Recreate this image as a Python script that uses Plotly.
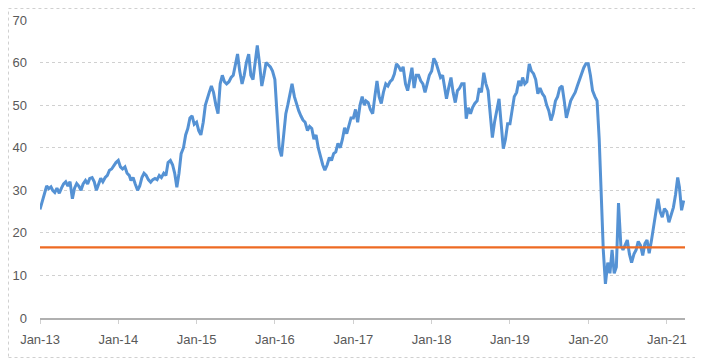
import plotly.graph_objects as go
import datetime as dt

years = [2013, 2014, 2015, 2016, 2017, 2018, 2019, 2020]
v2013 = [25.5, 27.5, 29.5, 31, 30.4, 30.8, 30, 29.5, 30.5, 29.3, 30.5, 31.5,
         32, 31, 32, 28, 30.5, 31.6, 31, 30, 31.5, 32.3, 31.5, 32.8,
         33, 32, 30, 31.5, 32.8, 32, 33, 33.5, 34.7, 35, 35.8, 36.5]
v2014 = [37, 35.5, 35, 35.5, 34, 33.5, 32.3, 33, 31.5, 30, 31, 33,
         34, 33.5, 32.5, 31.9, 32.5, 32.8, 32.5, 33.5, 33, 34, 33.5, 36.5,
         37, 36, 34, 30.7, 34, 38.6, 40, 43, 44.5, 47, 47.5, 45.5]
v2015 = [46, 44, 43, 46, 50, 52, 53, 54.5, 53, 50, 48, 55,
         57, 55.5, 55, 55.5, 56.5, 57, 60, 62, 58, 55, 57, 60,
         62, 57, 56, 60, 64, 60, 54.5, 57, 60, 59.5, 59, 58]
v2016 = [56, 48, 40, 38, 44, 48, 50, 53, 55, 52, 50, 48.7,
         47.5, 46.5, 46, 44, 45, 44.5, 42, 43, 40, 37.7, 36, 34.7,
         36, 37.7, 37, 38.6, 39, 41, 40, 42, 44.7, 43.3, 45, 47]
v2017 = [47, 49, 46, 50, 52, 50, 51, 50.6, 49, 48, 52, 55.7,
         52, 50.4, 53, 55, 54.5, 55.5, 56, 57.3, 59.7, 59, 58, 59,
         55, 53.4, 56, 58.8, 54, 57, 57, 55.7, 55, 53, 55, 57]
v2018 = [58, 61, 60, 58, 56.5, 57, 54.5, 51.5, 54, 56.5, 53, 50.6,
         53.4, 54, 55, 55, 46.8, 49.4, 48, 49.5, 50.4, 51, 54, 53,
         57.6, 55, 53.4, 48, 42.4, 46, 48.7, 51.5, 45.6, 39.8, 42, 45.6]
v2019 = [45.6, 49, 52, 53, 55.7, 54.5, 56.5, 55, 55.5, 59.7, 58, 57.4,
         56, 52.7, 54, 52.7, 52, 50, 48.7, 46.4, 48, 51, 52, 54,
         54.5, 51, 47, 49, 51, 52, 53, 54.5, 56, 57, 58.8, 59.7]
v2020 = [59.7, 57, 53.4, 52, 51, 42, 30, 16, 8, 13, 10.5, 16,
         10.5, 12, 27, 17, 16, 17, 18.3, 15, 13, 15, 16, 18,
         17, 14.7, 17.5, 18.3, 15.2, 18, 21.3, 24, 28, 25, 23.7, 25.7]
v2021 = [25, 22.5, 24, 26, 29, 33, 30.7, 25.3, 27.6]
threshold = 16.6
x_ticks = ["2013-01-01", "2014-01-01", "2015-01-01", "2016-01-01", "2017-01-01",
           "2018-01-01", "2019-01-01", "2020-01-01", "2021-01-01"]
x_labels = ["Jan-13", "Jan-14", "Jan-15", "Jan-16", "Jan-17",
            "Jan-18", "Jan-19", "Jan-20", "Jan-21"]

series = [v2013, v2014, v2015, v2016, v2017, v2018, v2019, v2020, v2021]
all_years = years + [2021]
dates, values = [], []
for yr, vals in zip(all_years, series):
    for i, v in enumerate(vals):
        m = i // 3 + 1
        d = [1, 11, 21][i % 3]
        dates.append(dt.date(yr, m, d))
        values.append(v)

fig = go.Figure()
fig.add_trace(go.Scatter(x=dates, y=values, mode="lines",
                         line=dict(color="#5592D4", width=3), showlegend=False))

# orange threshold line across the plot area
fig.add_shape(type="line", xref="paper", yref="y", x0=0, x1=1, y0=threshold, y1=threshold,
              line=dict(color="#EE6A22", width=2.2))

# dotted outer border of chart area
fig.add_shape(type="rect", xref="paper", yref="paper",
              x0=-0.0488, x1=1.0271, y0=-0.1326, y1=1.0386,
              line=dict(color="#D0D0D0", width=1, dash="dot"), layer="below")

font = dict(family="Liberation Sans", size=13, color="#595959")
fig.update_layout(
    width=695, height=350,
    margin=dict(l=32, r=18, t=12, b=40, autoexpand=False),
    paper_bgcolor="white", plot_bgcolor="white",
    font=font,
    xaxis=dict(type="date", range=["2013-01-01", "2021-03-27"],
               tickvals=x_ticks, ticktext=x_labels, automargin=False,
               showgrid=False, zeroline=False,
               showline=True, linecolor="#B0B0B0", linewidth=1.5,
               ticks="outside", ticklen=4, tickcolor="#D0D0D0",
               ticklabelstandoff=5, tickfont=font),
    yaxis=dict(range=[0, 70], tickvals=[0, 10, 20, 30, 40, 50, 60, 70],
               automargin=False,
               showgrid=True, gridcolor="#D0D0D0", griddash="dot", gridwidth=1,
               zeroline=False, showline=False,
               ticks="", ticklabelstandoff=12, tickfont=font),
)
fig.write_html("out.html")
